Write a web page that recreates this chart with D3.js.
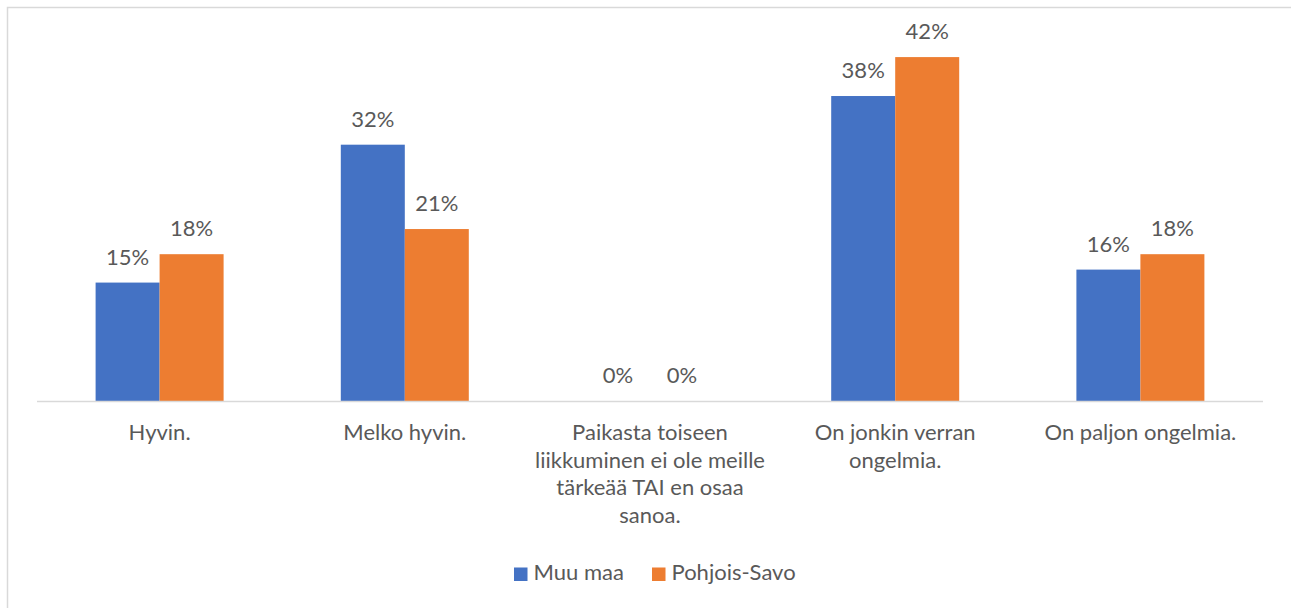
<!DOCTYPE html>
<html>
<head>
<meta charset="utf-8">
<script src="https://cdn.jsdelivr.net/npm/d3@7"></script>
<style>
  body { margin: 0; background: #fff; }
  text { font-family: Lato, "Open Sans", sans-serif; fill: #595959; }
</style>
</head>
<body>
<svg id="chart"></svg>
<script>
let width = 1291;
let height = 608;

// category labels, line breaks as in the picture
let categories = [
  "Hyvin.",
  "Melko hyvin.",
  "Paikasta toiseen\nliikkuminen ei ole meille\ntärkeää TAI en osaa\nsanoa.",
  "On jonkin verran\nongelmia.",
  "On paljon ongelmia."
];
let seriesNames = ["Muu maa", "Pohjois-Savo"];
let muuMaa = [0.146, 0.316, 0, 0.376, 0.162];
let pohjoisSavo = [0.181, 0.212, 0, 0.424, 0.181];
let colors = ["#4472C4", "#ED7D31"];

let fontSize = 22;

let svg = d3.select("#chart").attr("width", width).attr("height", height);

// outer frame
svg.append("rect")
  .attr("x", 7.5).attr("y", 7.5)
  .attr("width", width).attr("height", height)
  .attr("fill", "none")
  .attr("stroke", "#d9d9d9")
  .attr("stroke-width", 1.5);

let x = d3.scaleBand()
  .domain(categories)
  .range([37, 1263])
  .paddingInner(0.478)
  .paddingOuter(0.239);

let x1 = d3.scaleBand()
  .domain(seriesNames)
  .range([0, x.bandwidth()]);

let y = d3.scaleLinear()
  .domain([0, 0.45])
  .range([401, 36]);

let fmt = d3.format(".0%");

let rows = categories.map((c, i) => ({ cat: c, vals: [muuMaa[i], pohjoisSavo[i]] }));

let groups = svg.append("g").selectAll("g")
  .data(rows)
  .enter()
  .append("g")
  .attr("transform", d => `translate(${x(d.cat)},0)`);

groups.selectAll("rect")
  .data(d => d.vals.map((v, j) => ({ name: seriesNames[j], v: v, j: j })))
  .enter()
  .append("rect")
  .attr("x", d => x1(d.name))
  .attr("y", d => y(d.v))
  .attr("width", x1.bandwidth())
  .attr("height", d => y(0) - y(d.v))
  .attr("fill", d => colors[d.j]);

groups.selectAll("text.val")
  .data(d => d.vals.map((v, j) => ({ name: seriesNames[j], v: v })))
  .enter()
  .append("text")
  .attr("class", "val")
  .attr("x", d => x1(d.name) + x1.bandwidth() / 2)
  .attr("y", d => y(d.v) - 18)
  .attr("text-anchor", "middle")
  .style("font-size", fontSize + "px")
  .text(d => fmt(d.v));

// baseline
svg.append("line")
  .attr("x1", 37).attr("x2", 1263)
  .attr("y1", y(0) + 0.5).attr("y2", y(0) + 0.5)
  .attr("stroke", "#d9d9d9")
  .attr("stroke-width", 1.5);

// category labels
let catLabels = svg.append("g").selectAll("text")
  .data(categories)
  .enter()
  .append("text")
  .attr("x", d => x(d) + x.bandwidth() / 2)
  .attr("y", 440)
  .attr("text-anchor", "middle")
  .style("font-size", fontSize + "px");

catLabels.selectAll("tspan")
  .data(d => d.split("\n"))
  .enter()
  .append("tspan")
  .attr("x", function() { return d3.select(this.parentNode).attr("x"); })
  .attr("dy", (d, i) => i === 0 ? 0 : 27.7)
  .text(d => d);

// legend
let legendX = [514, 652];
let legend = svg.append("g").selectAll("g")
  .data(seriesNames)
  .enter()
  .append("g")
  .attr("transform", (d, i) => `translate(${legendX[i]},567.5)`);

legend.append("rect")
  .attr("width", 13.5).attr("height", 13.5)
  .attr("fill", (d, i) => colors[i]);

legend.append("text")
  .attr("x", 19.5)
  .attr("y", 12.5)
  .style("font-size", fontSize + "px")
  .text(d => d);
</script>
</body>
</html>
